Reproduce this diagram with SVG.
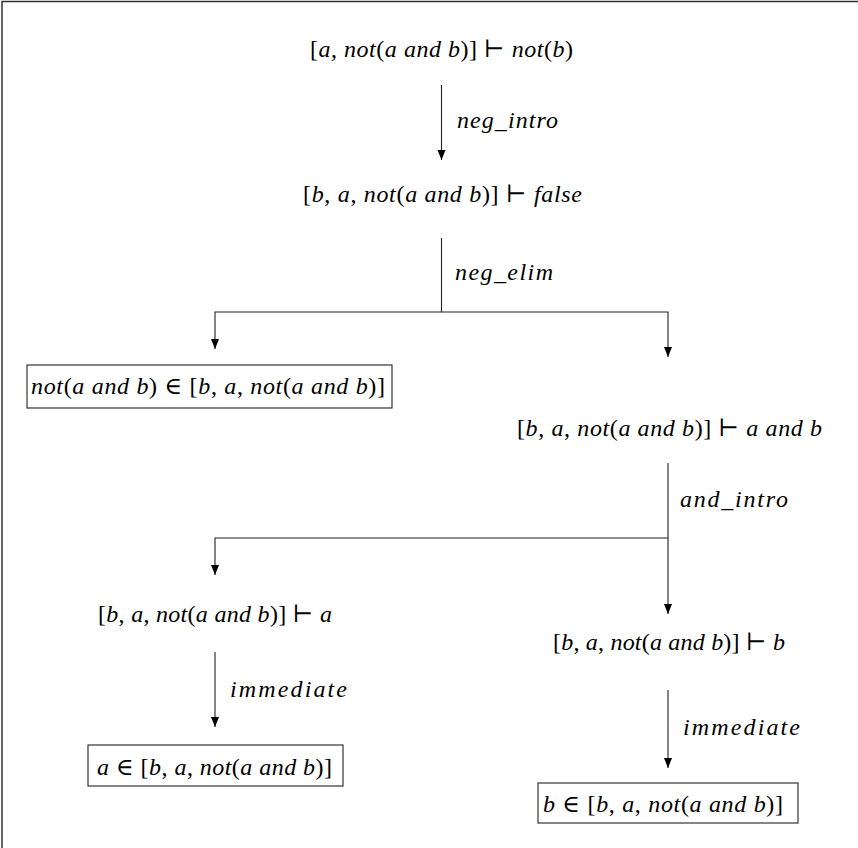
<svg xmlns="http://www.w3.org/2000/svg" width="858" height="848" viewBox="0 0 858 848">
  <style>
    .t { font-family: "Liberation Serif", "DejaVu Serif", serif; font-size: 24px; font-style: italic; fill: #000; }
    .r { font-style: normal; }
    .lbl { font-family: "Liberation Serif", "DejaVu Serif", serif; font-size: 24px; font-style: italic; fill: #000; }
    .edge { fill: none; stroke: #222; stroke-width: 1.1; }
    .box { fill: #fff; stroke: #222; stroke-width: 1.1; }
    .frame { fill: none; stroke: #333; stroke-width: 1.5; }
  </style>
  <defs>
    <marker id="head" markerUnits="userSpaceOnUse" markerWidth="10" markerHeight="12" viewBox="0 0 10 12" refX="10" refY="5" orient="auto">
      <path d="M0,1 L10,5 L0,9 z" fill="#000"/>
    </marker>
  </defs>

  <rect width="858" height="848" fill="#fff"/>
  <path class="frame" d="M2,848 V1.5 H858"/>

  <g id="connectors">
    <path class="edge" d="M441.5,85 V160" marker-end="url(#head)"/>
    <path class="edge" d="M441.5,238 V312 H215 V349" marker-end="url(#head)"/>
    <path class="edge" d="M441.5,312 H668 V357" marker-end="url(#head)"/>
    <path class="edge" d="M668,463 V538 H215 V575" marker-end="url(#head)"/>
    <path class="edge" d="M668,538 V614" marker-end="url(#head)"/>
    <path class="edge" d="M215,652 V727" marker-end="url(#head)"/>
    <path class="edge" d="M668,690 V768" marker-end="url(#head)"/>
    <text class="lbl" x="457" y="128" textLength="101">neg_intro</text>
    <text class="lbl" x="455" y="280" textLength="98">neg_elim</text>
    <text class="lbl" x="680" y="507" textLength="108">and_intro</text>
    <text class="lbl" x="230" y="697" textLength="117">immediate</text>
    <text class="lbl" x="683" y="735" textLength="117">immediate</text>
  </g>

  <g id="goal">
    <text class="t" x="310" y="57" textLength="263"><tspan class="r">[</tspan>a<tspan class="r">, </tspan>not<tspan class="r">(</tspan>a and b<tspan class="r">)] ⊢ </tspan>not<tspan class="r">(</tspan>b<tspan class="r">)</tspan></text>
  </g>

  <g id="false-goal">
    <text class="t" x="303" y="202" textLength="279"><tspan class="r">[</tspan>b<tspan class="r">, </tspan>a<tspan class="r">, </tspan>not<tspan class="r">(</tspan>a and b<tspan class="r">)] ⊢ </tspan>false</text>
  </g>

  <g id="member-not">
    <rect class="box" x="27" y="365" width="365" height="43"/>
    <text class="t" x="31" y="394" textLength="354">not<tspan class="r">(</tspan>a and b<tspan class="r">) ∈ [</tspan>b<tspan class="r">, </tspan>a<tspan class="r">, </tspan>not<tspan class="r">(</tspan>a and b<tspan class="r">)]</tspan></text>
  </g>

  <g id="and-goal">
    <text class="t" x="517" y="436" textLength="305"><tspan class="r">[</tspan>b<tspan class="r">, </tspan>a<tspan class="r">, </tspan>not<tspan class="r">(</tspan>a and b<tspan class="r">)] ⊢ </tspan>a and b</text>
  </g>

  <g id="goal-a">
    <text class="t" x="98" y="622" textLength="234"><tspan class="r">[</tspan>b<tspan class="r">, </tspan>a<tspan class="r">, </tspan>not<tspan class="r">(</tspan>a and b<tspan class="r">)] ⊢ </tspan>a</text>
  </g>

  <g id="goal-b">
    <text class="t" x="553" y="650" textLength="232"><tspan class="r">[</tspan>b<tspan class="r">, </tspan>a<tspan class="r">, </tspan>not<tspan class="r">(</tspan>a and b<tspan class="r">)] ⊢ </tspan>b</text>
  </g>

  <g id="member-a">
    <rect class="box" x="88" y="745" width="255" height="41"/>
    <text class="t" x="97" y="775" textLength="235">a<tspan class="r"> ∈ [</tspan>b<tspan class="r">, </tspan>a<tspan class="r">, </tspan>not<tspan class="r">(</tspan>a and b<tspan class="r">)]</tspan></text>
  </g>

  <g id="member-b">
    <rect class="box" x="538" y="783" width="260" height="40"/>
    <text class="t" x="543" y="812" textLength="240">b<tspan class="r"> ∈ [</tspan>b<tspan class="r">, </tspan>a<tspan class="r">, </tspan>not<tspan class="r">(</tspan>a and b<tspan class="r">)]</tspan></text>
  </g>
</svg>
